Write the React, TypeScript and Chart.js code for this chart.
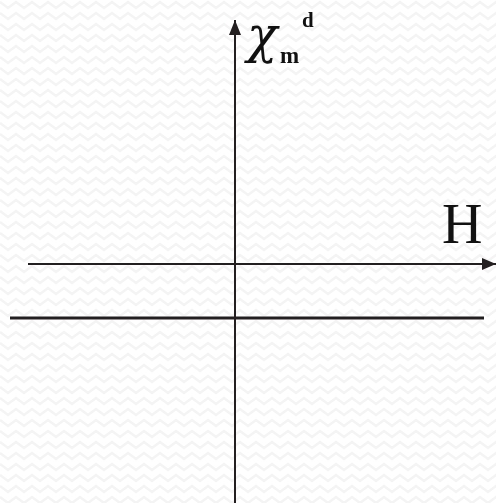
import React, { useEffect, useRef } from "react";
import { Chart, registerables } from "chart.js";

Chart.register(...registerables);

// Field strength H (arbitrary units) and diamagnetic molar susceptibility
const H_AXIS: number[] = [-4.14, 5.22];
const CHI_AXIS: number[] = [-4.78, 4.88];
const DIA_H: number[] = [-4.5, 4.98];
const DIA_CHI: number[] = [-1.08, -1.08];

const X_MIN = -4.7;
const X_MAX = 5.22;
const Y_MIN = -4.78;
const Y_MAX = 5.28;

const INK = "#231f20";

const backgroundPlugin = {
  id: "zigzagBackground",
  beforeDraw(chart: any) {
    const { ctx, width, height } = chart;
    ctx.save();
    ctx.fillStyle = "#ffffff";
    ctx.fillRect(0, 0, width, height);
    ctx.strokeStyle = "#f4f4f4";
    ctx.lineWidth = 2.5;
    const period = 16;
    const rowGap = 11;
    for (let y = 5; y < height + rowGap; y += rowGap) {
      ctx.beginPath();
      for (let i = 0; i * (period / 2) <= width + period; i++) {
        const x = i * (period / 2);
        const yy = y + (i % 2 === 0 ? -3 : 3);
        if (i === 0) ctx.moveTo(x, yy);
        else ctx.lineTo(x, yy);
      }
      ctx.stroke();
    }
    ctx.restore();
  },
};

const annotationPlugin = {
  id: "axisDecor",
  afterDatasetsDraw(chart: any) {
    const { ctx } = chart;
    const xs = chart.scales.x;
    const ys = chart.scales.y;
    const x0 = xs.getPixelForValue(0);
    const y0 = ys.getPixelForValue(0);
    const hEnd = xs.getPixelForValue(H_AXIS[1]);
    const chiEnd = ys.getPixelForValue(CHI_AXIS[1]);
    ctx.save();
    ctx.fillStyle = INK;
    // arrowhead on H axis
    ctx.beginPath();
    ctx.moveTo(hEnd, y0);
    ctx.lineTo(hEnd - 14, y0 - 6);
    ctx.lineTo(hEnd - 14, y0 + 6);
    ctx.closePath();
    ctx.fill();
    // arrowhead on susceptibility axis
    ctx.beginPath();
    ctx.moveTo(x0, chiEnd);
    ctx.lineTo(x0 - 6, chiEnd + 15);
    ctx.lineTo(x0 + 6, chiEnd + 15);
    ctx.closePath();
    ctx.fill();

    ctx.fillStyle = "#111111";
    ctx.textBaseline = "alphabetic";
    ctx.textAlign = "left";
    ctx.font = "56px 'Liberation Serif', 'Times New Roman', serif";
    ctx.fillText("H", x0 + 207, y0 - 21);
    ctx.font = "italic 50px 'DejaVu Serif', serif";
    ctx.fillText("\u03c7", x0 + 12, 52);
    ctx.font = "bold 23px 'Liberation Serif', 'Times New Roman', serif";
    ctx.fillText("m", x0 + 45, 63);
    ctx.font = "bold 21px 'Liberation Serif', 'Times New Roman', serif";
    ctx.fillText("d", x0 + 67, 27);
    ctx.restore();
  },
};

export default function App() {
  const canvasRef = useRef<HTMLCanvasElement | null>(null);

  useEffect(() => {
    if (!canvasRef.current) return;
    const chart = new Chart(canvasRef.current, {
      type: "scatter",
      data: {
        datasets: [
          {
            label: "H",
            data: H_AXIS.map((h) => ({ x: h, y: 0 })),
            showLine: true,
            borderColor: INK,
            borderWidth: 2,
            pointRadius: 0,
          },
          {
            label: "chi",
            data: CHI_AXIS.map((c) => ({ x: 0, y: c })),
            showLine: true,
            borderColor: INK,
            borderWidth: 2,
            pointRadius: 0,
          },
          {
            label: "diamagnetic",
            data: DIA_H.map((h, i) => ({ x: h, y: DIA_CHI[i] })),
            showLine: true,
            borderColor: INK,
            borderWidth: 3,
            pointRadius: 0,
          },
        ],
      },
      options: {
        responsive: false,
        animation: false,
        layout: { padding: 0 },
        plugins: {
          legend: { display: false },
          tooltip: { enabled: false },
          title: { display: false },
        },
        scales: {
          x: { type: "linear", min: X_MIN, max: X_MAX, display: false },
          y: { type: "linear", min: Y_MIN, max: Y_MAX, display: false },
        },
      },
      plugins: [backgroundPlugin, annotationPlugin],
    });
    return () => chart.destroy();
  }, []);

  return (
    <div style={{ position: "fixed", left: 0, top: 0, width: 496, height: 503, background: "#fff" }}>
      <canvas ref={canvasRef} width={496} height={503} />
    </div>
  );
}
